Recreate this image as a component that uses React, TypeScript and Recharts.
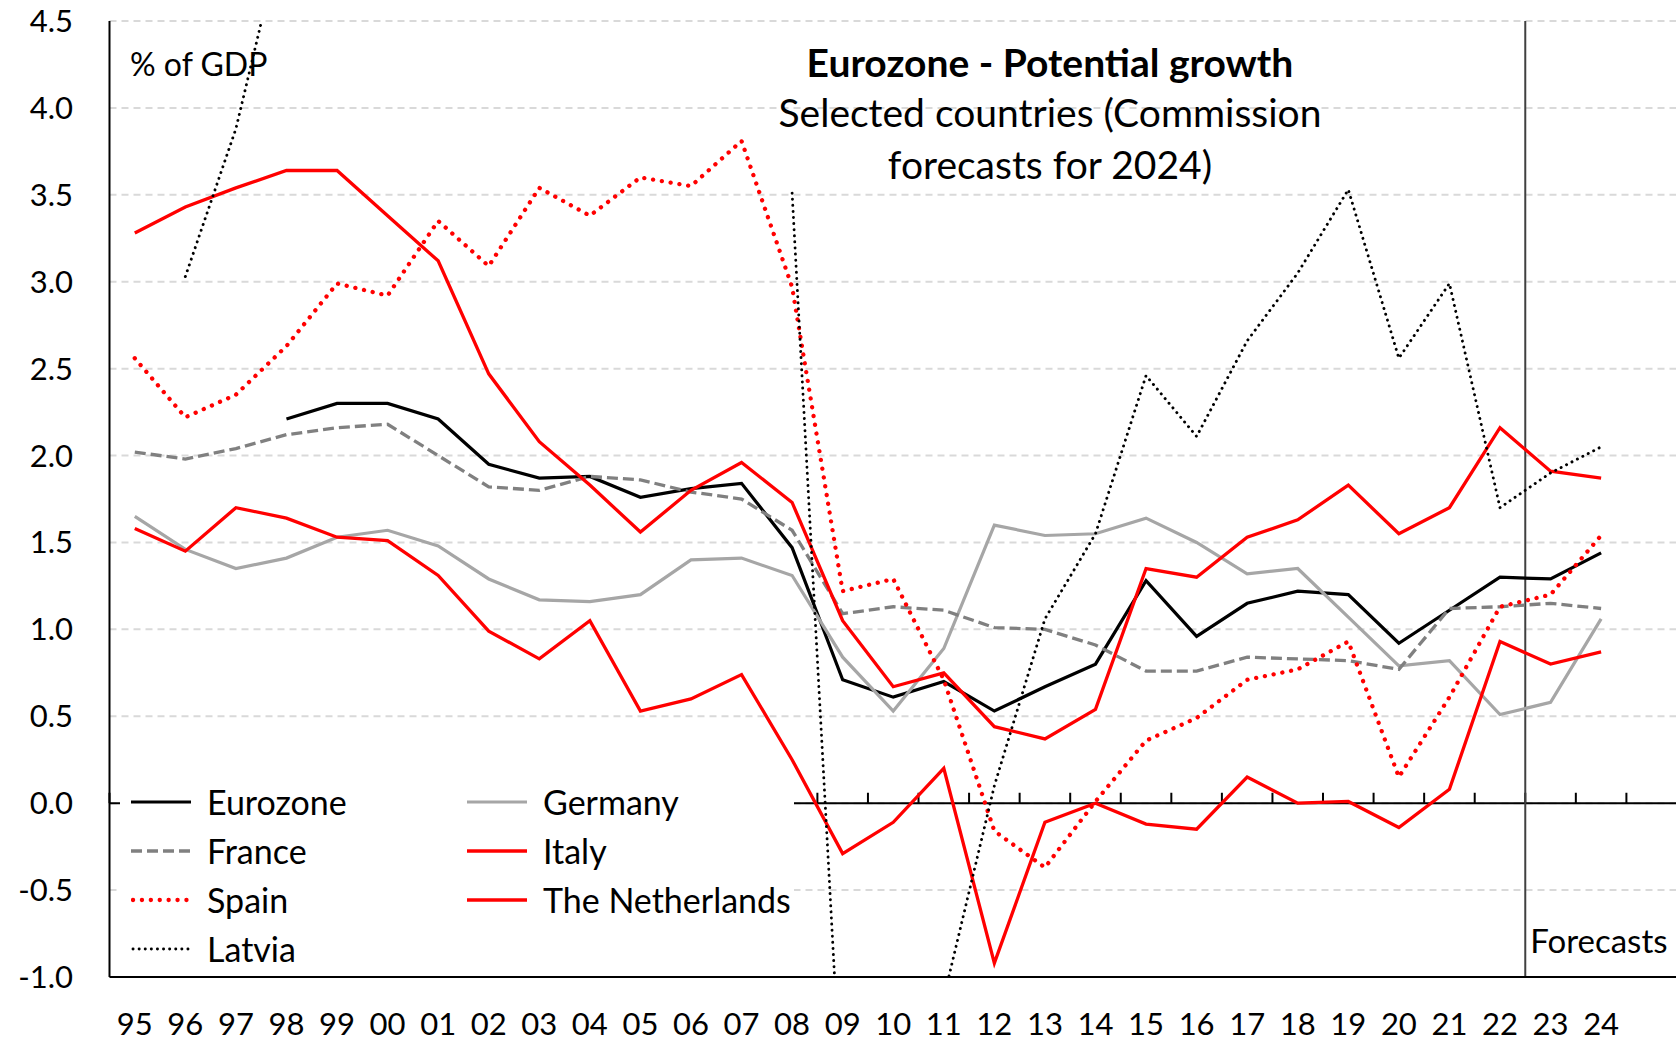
import React from 'react';
import { LineChart, Line, XAxis, YAxis, CartesianGrid, ReferenceLine, Legend } from 'recharts';

const years = ['95','96','97','98','99','00','01','02','03','04','05','06','07','08','09','10','11','12','13','14','15','16','17','18','19','20','21','22','23','24'];

const eurozone = [null,null,null,2.21,2.30,2.30,2.21,1.95,1.87,1.88,1.76,1.81,1.84,1.47,0.71,0.61,0.70,0.53,0.67,0.80,1.28,0.96,1.15,1.22,1.20,0.92,1.11,1.30,1.29,1.44];
const germany = [1.65,1.46,1.35,1.41,1.53,1.57,1.48,1.29,1.17,1.16,1.20,1.40,1.41,1.31,0.84,0.53,0.89,1.60,1.54,1.55,1.64,1.50,1.32,1.35,1.07,0.79,0.82,0.51,0.58,1.06];
const france = [2.02,1.98,2.04,2.12,2.16,2.18,2.00,1.82,1.80,1.88,1.86,1.79,1.75,1.57,1.09,1.13,1.11,1.01,1.00,0.91,0.76,0.76,0.84,0.83,0.82,0.77,1.12,1.13,1.15,1.12];
const italy = [1.58,1.45,1.70,1.64,1.53,1.51,1.31,0.99,0.83,1.05,0.53,0.60,0.74,0.25,-0.29,-0.11,0.20,-0.92,-0.11,0.00,-0.12,-0.15,0.15,0.00,0.01,-0.14,0.08,0.93,0.80,0.87];
const spain = [2.56,2.22,2.35,2.63,2.99,2.92,3.35,3.09,3.54,3.38,3.60,3.55,3.81,2.97,1.22,1.29,0.71,-0.16,-0.37,0.01,0.36,0.49,0.71,0.77,0.93,0.15,0.61,1.13,1.20,1.54];
const netherlands = [3.28,3.43,3.54,3.64,3.64,3.38,3.12,2.47,2.08,1.83,1.56,1.80,1.96,1.73,1.05,0.67,0.75,0.44,0.37,0.54,1.35,1.30,1.53,1.63,1.83,1.55,1.70,2.16,1.91,1.87];
const latvia = [null,3.03,3.88,5.1,5.6,6.0,6.4,6.8,7.1,7.4,7.6,7.7,7.7,3.51,-1.86,-1.9,-1.12,0.10,1.06,1.55,2.46,2.11,2.66,3.05,3.53,2.56,2.99,1.70,1.90,2.05];
// the reference leaves the Latvia segment between these two years undrawn
const latviaBreakAfter = '07';

const yTicks = [-1, -0.5, 0, 0.5, 1, 1.5, 2, 2.5, 3, 3.5, 4, 4.5];
const forecastStart = '23';
const titleText = 'Eurozone - Potential growth';
const subtitleLines = ['Selected countries (Commission', 'forecasts for 2024)'];
const unitText = '% of GDP';
const forecastText = 'Forecasts';

type Series = { key: string; name: string; values: (number | null)[]; color: string; width: number; dash?: string; cap?: 'round' | 'butt'; hideLegend?: boolean };

const breakIdx = years.indexOf(latviaBreakAfter);
const latviaA = latvia.map((v, i) => (i <= breakIdx ? v : null));
const latviaB = latvia.map((v, i) => (i > breakIdx ? v : null));

const series: Series[] = [
  { key: 'eurozone', name: 'Eurozone', values: eurozone, color: '#000000', width: 3.2 },
  { key: 'germany', name: 'Germany', values: germany, color: '#a6a6a6', width: 3.2 },
  { key: 'france', name: 'France', values: france, color: '#808080', width: 3.3, dash: '11 5' },
  { key: 'italy', name: 'Italy', values: italy, color: '#ff0000', width: 3.3 },
  { key: 'spain', name: 'Spain', values: spain, color: '#ff0000', width: 4.3, dash: '0.1 8.8', cap: 'round' },
  { key: 'netherlands', name: 'The Netherlands', values: netherlands, color: '#ff0000', width: 3.3 },
  { key: 'latvia', name: 'Latvia', values: latviaA, color: '#000000', width: 2.9, dash: '0.1 6', cap: 'round' },
  { key: 'latvia2', name: 'Latvia', values: latviaB, color: '#000000', width: 2.9, dash: '0.1 6', cap: 'round', hideLegend: true },
];

const legendOrder = ['eurozone', 'france', 'spain', 'latvia', 'germany', 'italy', 'netherlands'];

const data = years.map((year, i) => {
  const row: Record<string, any> = { year };
  series.forEach((s) => { row[s.key] = s.values[i]; });
  return row;
});

const FONT = 'Lato, "Open Sans", sans-serif';

const renderLegend = (props: any) => {
  const payload: any[] = props.payload || [];
  return (
    <div style={{ display: 'grid', gridTemplateRows: 'repeat(4, 48.8px)', gridTemplateColumns: '336px 330px', gridAutoFlow: 'column', paddingLeft: 11, fontFamily: FONT, fontSize: 34, color: '#000' }}>
      {legendOrder.map((k) => {
        const s = series.find((x) => x.key === k)!;
        const p = payload.find((e) => e.dataKey === k);
        const color = p?.color || s.color;
        return (
          <div key={k} style={{ display: 'flex', alignItems: 'center', height: 48.8 }}>
            <svg width={60} height={12} style={{ marginRight: 16, flex: 'none' }}>
              <line x1={s.cap === 'round' ? 2 : 0} y1={6} x2={60} y2={6} stroke={color} strokeWidth={s.width} strokeDasharray={s.dash} strokeLinecap={s.cap || 'butt'} />
            </svg>
            <span style={{ whiteSpace: 'nowrap', lineHeight: 1 }}>{p?.value || s.name}</span>
          </div>
        );
      })}
    </div>
  );
};

const ForecastLabel = (props: any) => {
  const vb = props.viewBox || { x: 0, y: 0, height: 0 };
  return (
    <text x={vb.x + 5} y={vb.y + vb.height - 24} fontSize={33} fontFamily={FONT} fill="#000">{forecastText}</text>
  );
};

const W = 1678;
const H = 1042;

export default function App() {
  return (
    <div style={{ position: 'absolute', left: 0, top: 0, width: W, height: H, background: '#fff' }}>
      <LineChart width={W} height={H} data={data} margin={{ top: 21, right: 2, left: 0, bottom: 0 }}>
        <CartesianGrid vertical={false} stroke="#d9d9d9" strokeWidth={2} strokeDasharray="7 5" />
        <XAxis
          dataKey="year"
          scale="band"
          padding={{ left: 0, right: 49.6 }}
          interval={0}
          tickLine={false}
          tickSize={0}
          tickMargin={36}
          height={65}
          axisLine={{ stroke: '#000', strokeWidth: 2 }}
          tick={{ fill: '#000', fontSize: 31, fontFamily: FONT }}
        />
        <XAxis xAxisId="top" dataKey="year" orientation="top" height={0} tick={false} tickLine={false} axisLine={{ stroke: '#000', strokeWidth: 2 }} />
        <YAxis
          domain={[-1, 4.5]}
          ticks={yTicks}
          allowDataOverflow
          interval={0}
          tickFormatter={(v: number) => v.toFixed(1)}
          width={109.5}
          tickLine={false}
          tickSize={0}
          tickMargin={36.5}
          axisLine={{ stroke: '#000', strokeWidth: 2 }}
          tick={{ fill: '#000', fontSize: 31, fontFamily: FONT }}
        />
        <YAxis yAxisId="right" orientation="right" domain={[-1, 4.5]} width={0} tick={false} tickLine={false} axisLine={{ stroke: '#000', strokeWidth: 2 }} />
        <ReferenceLine y={0} stroke="#000" strokeWidth={2} />
        {years.map((y) => (
          <ReferenceLine key={'t' + y} position="start" segment={[{ x: y, y: 0 }, { x: y, y: 0.06 }]} stroke="#000" strokeWidth={2} />
        ))}
        <ReferenceLine position="end" segment={[{ x: years[years.length - 1], y: 0 }, { x: years[years.length - 1], y: 0.06 }]} stroke="#000" strokeWidth={2} />
        <ReferenceLine x={forecastStart} position="start" stroke="#404040" strokeWidth={2} label={<ForecastLabel />} />
        {series.map((s) => (
          <Line
            key={s.key}
            type="linear"
            dataKey={s.key}
            name={s.name}
            stroke={s.color}
            strokeWidth={s.width}
            strokeDasharray={s.dash}
            strokeLinecap={s.cap || 'butt'}
            legendType={s.hideLegend ? 'none' : 'line'}
            dot={false}
            activeDot={false}
            isAnimationActive={false}
            connectNulls={false}
          />
        ))}
        <Legend
          layout="vertical"
          align="center"
          verticalAlign="middle"
          content={renderLegend}
          wrapperStyle={{ left: 120, top: 778, width: 674, height: 196, backgroundColor: '#fff' }}
        />
      </LineChart>
      <svg width={W} height={H} style={{ position: 'absolute', left: 0, top: 0, pointerEvents: 'none' }}>
        <text x={130} y={76} fontSize={32} fontFamily={FONT} fill="#000">{unitText}</text>
        <text x={1050} y={76.5} fontSize={39} fontWeight="bold" fontFamily={FONT} fill="#000" textAnchor="middle">{titleText}</text>
        {subtitleLines.map((t, i) => (
          <text key={t} x={1050} y={127 + 52 * i} fontSize={39} fontFamily={FONT} fill="#000" textAnchor="middle">{t}</text>
        ))}
      </svg>
    </div>
  );
}
